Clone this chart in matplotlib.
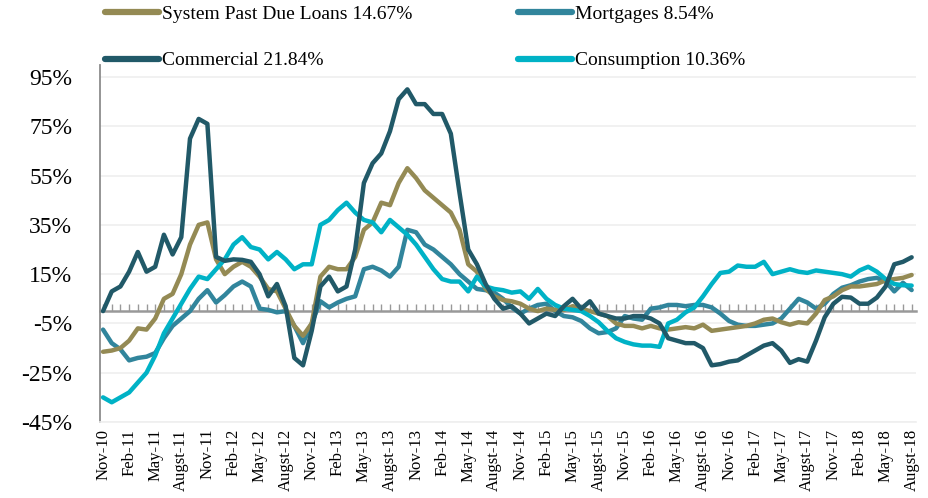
import matplotlib
matplotlib.use("Agg")
import matplotlib.pyplot as plt
import numpy as np

# ---- data (monthly, Nov-10 .. Aug-18) ----
system_past_due = [-16.5, -16, -15, -12, -7, -7.5, -3, 5, 7, 15,
                   27, 35, 36, 21, 15, 18, 20, 18, 14, 9,
                   8, 1, -6, -10, -5, 14, 18, 17, 17, 22,
                   33, 36, 44, 43, 52, 58, 54, 49, 46, 43,
                   40, 33, 19, 16, 9, 6, 4.5, 4, 3, 1,
                   0, 1, 0.5, 0.5, 2, 1, 0, -1, -2, -5,
                   -6, -6, -7, -6, -7, -7.5, -7, -6.5, -7, -5.5,
                   -8, -7.5, -7, -6.5, -6, -5, -3.5, -3, -4.5, -5.5,
                   -4.5, -5, -1, 4.5, 6, 8.5, 10, 10, 10.5, 11,
                   12.5, 13, 13.5, 14.67]
mortgages = [-7.5, -13, -15.5, -20, -19, -18.5, -17, -11, -6, -3,
             0, 5, 8.5, 3.5, 6.5, 10, 12, 10, 1, 0.5,
             -0.5, 0, -6, -13, -5, 4, 1.5, 3.5, 5, 6,
             17, 18, 16.5, 14, 18, 33, 32, 27, 25, 22,
             19, 15, 12, 9, 8.5, 7.5, 5, 1.5, -1, 1,
             2.5, 3, 0, -2, -2.5, -4, -7, -9, -8.5, -7,
             -2, -3, -3.5, 1, 1.5, 2.5, 2.5, 2, 2.5, 2.5,
             1.5, -1, -4, -5.5, -6, -6, -5.5, -5, -3, 1,
             5, 3.5, 1, 3, 7, 9.5, 10.5, 12, 13, 13.5,
             12, 8, 11.5, 8.54]
commercial = [0, 8, 10, 16, 24, 16, 18, 31, 23, 30,
              70, 78, 76, 22, 20.4, 21, 20.8, 20, 15, 6,
              11, 2, -19, -22, -8, 10, 14, 8, 10, 25,
              52, 60, 64, 73, 86, 90, 84, 84, 80, 80,
              72, 48, 25, 19, 11, 5, 1, 2, -1, -5,
              -3, -1, -2, 2, 5, 1, 4, -1, -2, -3,
              -3, -2, -2, -3, -5, -11, -12, -13, -13, -15,
              -22, -21.5, -20.5, -20, -18, -16, -14, -13, -16, -21,
              -19.5, -20.5, -12, -2.5, 3, 5.8, 5.5, 3, 3, 5.5,
              10, 19, 20, 21.84]
consumption = [-35, -37, -35, -33, -29, -25, -18, -9, -3, 3,
               9, 14, 13, 17, 21, 27, 30, 26, 25, 21,
               24, 21, 17, 19, 19, 35, 37, 41, 44, 40,
               37, 36, 32, 37, 34, 31, 27, 22, 17, 13,
               12, 12, 8, 14, 10, 9, 8.5, 7.5, 8, 5,
               9, 5, 2.5, 1, 0.5, 0, -2, -4.5, -8, -11,
               -12.5, -13.5, -14, -14, -14.5, -5, -3.5, -0.5, 1.5, 6,
               11, 15.5, 16, 18.5, 18, 18, 20, 15, 16, 17,
               16, 15.5, 16.5, 16, 15.5, 15, 14, 16.5, 18, 16,
               13, 11, 10.5, 10.36]

tick_labels = ["Nov-10", "Feb-11", "May-11", "Augst-11", "Nov-11", "Feb-12",
               "May-12", "Augst-12", "Nov-12", "Feb-13", "May-13", "Augst-13",
               "Nov-13", "Feb-14", "May-14", "Augst-14", "Nov-14", "Feb-15",
               "May-15", "Augst-15", "Nov-15", "Feb-16", "May-16", "Augst-16",
               "Nov-16", "Feb-17", "May-17", "Augst-17", "Nov-17", "Feb-18",
               "May-18", "Augst-18"]
y_ticks = [-45, -25, -5, 15, 35, 55, 75, 95]

serif = ["Liberation Serif", "DejaVu Serif"]
plt.rcParams["font.family"] = serif

fig = plt.figure(figsize=(9.29, 4.98), dpi=100)
ax = fig.add_axes([100 / 929, 1 - 422 / 498, (916 - 100) / 929, (422 - 64.7) / 498])

months = np.arange(len(commercial))
draw_order = [("Mortgages 8.54%", mortgages, "#31859C"),
              ("System Past Due Loans 14.67%", system_past_due, "#948A54"),
              ("Consumption 10.36%", consumption, "#00B2C6"),
              ("Commercial 21.84%", commercial, "#215968")]
handles = {}
for name, vals, col in draw_order:
    ln, = ax.plot(months, vals, color=col, lw=3.2, solid_joinstyle="round",
                  solid_capstyle="round", label=name, zorder=3)
    handles[name] = ln

ax.set_xlim(-0.35, 93.5)
ax.set_ylim(-45, 100)
ax.set_yticks(y_ticks)
ax.set_yticklabels([f"{v}%" for v in y_ticks])
ax.set_xticks(np.arange(0, len(commercial), 3))
ax.set_xticklabels(tick_labels, rotation=90)
ax.tick_params(axis="y", length=0, pad=20, labelsize=17)
ax.tick_params(axis="x", length=0, pad=5, labelsize=12)
ax.grid(axis="y", color="#EFEFEF", lw=1.2, zorder=0)
for s in ["top", "right"]:
    ax.spines[s].set_visible(False)
ax.spines["left"].set_color("#8C8C8C")
ax.spines["left"].set_linewidth(1.3)
ax.spines["bottom"].set_color("#EFEFEF")
ax.spines["bottom"].set_linewidth(1.2)

# zero axis with monthly tick marks
sec = ax.secondary_xaxis((0 - (-45)) / (100 - (-45)))
sec.set_xticks(months)
sec.tick_params(axis="x", direction="in", length=5, width=1, color="#999999",
                labelbottom=False, labeltop=False, top=False, bottom=True)
for s in sec.spines.values():
    s.set_color("#999999")
    s.set_linewidth(1.8)

leg_order = ["System Past Due Loans 14.67%", "Commercial 21.84%",
             "Mortgages 8.54%", "Consumption 10.36%"]
leg = fig.legend([handles[n] for n in leg_order], leg_order, loc="upper left",
                 bbox_to_anchor=(105 / 929, 1 - 5 / 498), ncol=2, frameon=False,
                 fontsize=14, handlelength=2.8, handletextpad=0.15,
                 columnspacing=5.4, labelspacing=1.5, borderpad=0,
                 borderaxespad=0)
for l in leg.get_lines():
    l.set_linewidth(4.5)

fig.savefig("out.png", dpi=100)
